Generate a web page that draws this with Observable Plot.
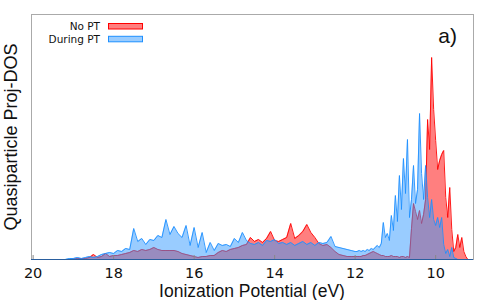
<!DOCTYPE html>
<html><head><meta charset="utf-8">
<script src="https://cdn.jsdelivr.net/npm/d3@7"></script>
<script src="https://cdn.jsdelivr.net/npm/@observablehq/plot@0.6"></script>
<style>body{margin:0;background:#fff}</style>
</head><body><div id="chart"></div>
<script>
// Ionization potential grid (eV)
const energy = [
19.2,19.1,19.0,18.9,18.8,18.7,18.6,18.5,18.4,18.3,18.2,18.1,18.0,
17.9,17.8,17.7,17.6,17.5,17.4,17.3,17.2,17.1,17.0,
16.9,16.8,16.7,16.6,16.5,16.4,16.3,16.2,16.1,16.0,
15.9,15.8,15.7,15.6,15.5,15.4,15.3,15.2,15.1,15.0,
14.9,14.8,14.7,14.6,14.5,14.4,14.3,14.2,14.1,14.0,
13.9,13.8,13.7,13.6,13.5,13.4,13.3,13.2,13.1,13.0,
12.9,12.8,12.7,12.6,12.5,12.4,12.3,12.2,12.1,12.0,
11.95,11.9,11.85,11.8,11.75,11.7,11.65,11.6,11.55,11.5,
11.45,11.4,11.35,11.3,11.25,11.2,11.15,11.1,11.05,11.0,
10.95,10.9,10.85,10.8,10.75,10.7,10.65,10.6,10.55,10.5,
10.45,10.4,10.35,10.3,10.25,10.2,10.15,10.1,10.05,10.0,
9.95,9.9,9.85,9.8,9.75,9.7,9.65,9.6,9.55,9.5,
9.45,9.4,9.35,9.3,9.25,9.2,9.15
];
// "No PT" series (arbitrary units)
const noPT = [
0,0,0.5,1,1,1,2,5,2,3,6,3,4,
4,5,6,7,9,8,10,9,10,12,
10,9,9,9,9,8,6,5,4,3,
2,3,3,4,4,7,9,8,10,11,
12,14,15,22,18,20,17,21,28,19,
18,20,22,36,21,24,28,35,27,22,
16,14,15,12,8,5,4,3,3,3,
3,3,3,4,4,5,6,7,8,7,
6,5,4,4,3,3,3,4,3,3,
3,2,3,3,2,3,2,31,56,48,
40,49,36,45,60,140,110,202,150,119,
90,99,105,109,62,42,72,30,8,12,
25,12,22,8,3,0,0
];
// "During PT" series (arbitrary units)
const duringPT = [
0,1,1,2,1,2,3,2,3,5,6,7,6,
9,8,11,10,31,18,21,15,20,19,
24,22,40,25,33,26,22,34,14,32,
12,27,7,17,9,16,14,15,13,21,
17,27,19,16,15,17,14,19,18,20,
16,17,15,17,14,16,18,15,17,14,
17,16,17,23,13,12,11,10,9,8,
8,9,8,9,8,10,9,11,10,12,
14,12,16,37,22,26,19,44,29,64,
38,84,50,101,66,120,42,60,94,56,
70,146,86,60,94,62,42,60,40,34,
42,32,42,15,6,10,3,12,2,1,
0,0,0,0,0,0,0
];
const xTicks = [20, 18, 16, 14, 12, 10];
const seriesNames = ["No PT", "During PT"];
const seriesFill = ["rgba(255,0,0,0.5)", "rgba(51,153,255,0.5)"];
const seriesStroke = ["#ff0000", "#1e90ff"];

const data = energy.map((e, i) => ({e, red: noPT[i], blue: duringPT[i]}));

const svg = Plot.plot({
  width: 500, height: 300,
  marginLeft: 31, marginRight: 27, marginTop: 14, marginBottom: 41,
  style: {fontFamily: "DejaVu Sans", fontSize: "14.5px", background: "#fff", color: "#111"},
  x: {domain: [20.04, 9.06]},
  y: {domain: [0, 245], axis: null},
  marks: [
    Plot.frame({stroke: "#aaa"}),
    Plot.areaY(data, {x: "e", y: "red", fill: "#ff0000", fillOpacity: 0.5}),
    Plot.lineY(data, {x: "e", y: "red", stroke: "#ff0000", strokeWidth: 0.9}),
    Plot.areaY(data, {x: "e", y: "blue", fill: "#3399ff", fillOpacity: 0.5}),
    Plot.lineY(data, {x: "e", y: "blue", stroke: "#1e90ff", strokeWidth: 0.9}),
    Plot.ruleY([0], {stroke: "#2a5f9e"}),
    Plot.ruleX(xTicks, {x: d => d, y1: 0, y2: 4, stroke: "#888"}),
    Plot.axisX({ticks: xTicks, tickSize: 0, tickPadding: 8, label: null, tickFormat: d => String(d)})
  ]
});
document.getElementById("chart").appendChild(svg);

const s = d3.select(svg);
s.append("text")
  .attr("x", 252).attr("y", 296.5)
  .attr("text-anchor", "middle")
  .attr("font-family", "Liberation Sans, Arial, sans-serif")
  .attr("font-size", 17.5).attr("fill", "#111")
  .text("Ionization Potential (eV)");
s.append("text")
  .attr("transform", "translate(17,137) rotate(-90)")
  .attr("text-anchor", "middle")
  .attr("font-family", "Liberation Sans, Arial, sans-serif")
  .attr("font-size", 18).attr("fill", "#111")
  .text("Quasiparticle Proj-DOS");
s.append("text")
  .attr("x", 457).attr("y", 43)
  .attr("text-anchor", "end")
  .attr("font-family", "Liberation Sans, Arial, sans-serif")
  .attr("font-size", 21).attr("fill", "#111")
  .text("a)");
const lg = s.append("g");
seriesNames.forEach((name, i) => {
  lg.append("text")
    .attr("x", 100).attr("y", 30 + 12.6 * i)
    .attr("text-anchor", "end")
    .attr("font-family", "DejaVu Sans")
    .attr("font-size", 10.5).attr("fill", "#111")
    .text(name);
  lg.append("rect")
    .attr("x", 108.5).attr("y", 23.5 + 12.8 * i)
    .attr("width", 34).attr("height", 5.5)
    .attr("fill", seriesFill[i]).attr("stroke", seriesStroke[i]).attr("stroke-width", 1);
});
</script>
</body></html>
